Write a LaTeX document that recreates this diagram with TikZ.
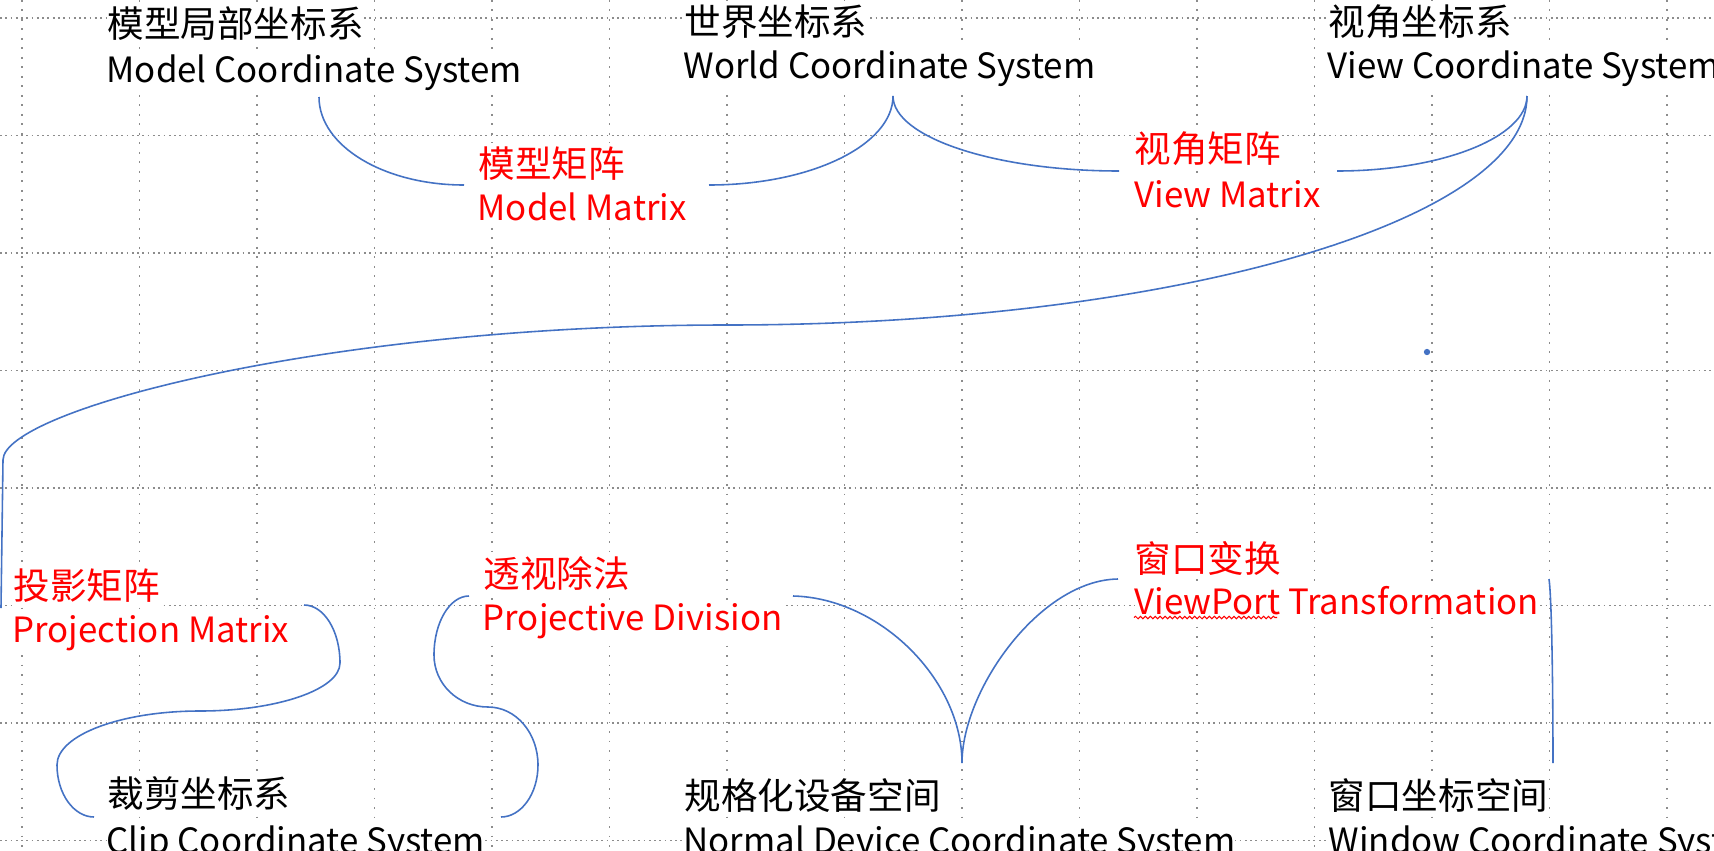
\documentclass[tikz,border=0pt]{standalone}
\usepackage{fontspec}
\setmainfont{Noto Sans CJK SC}
\usetikzlibrary{decorations.pathmorphing}
\definecolor{shapeblue}{RGB}{68,114,196}
\definecolor{markred}{RGB}{255,0,0}
\definecolor{gridgray}{RGB}{140,140,140}
\tikzset{
    raw label/.style={anchor=base west, inner xsep=0pt, inner ysep=1pt, fill=white},
    sys name/.style={raw label, text=black, font=\fontsize{10.4}{12}\selectfont},
    sys name en/.style={raw label, text=black, font=\fontsize{9.9}{12}\selectfont},
    map name/.style={sys name, text=markred},
    map name en/.style={sys name en, text=markred},
    brace line/.style={shapeblue, line width=0.45pt},
    grid h/.style={gridgray, line width=0.5pt, dash pattern=on 0.5pt off 1pt},
    grid v/.style={gridgray, line width=0.5pt, dash pattern=on 0.5pt off 2.2pt},
    spell mark/.style={markred, line width=0.3pt, decorate, decoration={snake, amplitude=0.35pt, segment length=1.4pt}}
}
\begin{document}
\begin{tikzpicture}[x=0.01cm, y=-0.01cm]
	\path[use as bounding box, fill=white] (0,0) rectangle (1714,851);
	\foreach \gy in {0,...,7}
		\draw[grid h] (0,{18+117.5*\gy}) -- (1714,{18+117.5*\gy});
	\foreach \gx in {0,...,14}
		\draw[grid v] ({22+117.5*\gx},0) -- ({22+117.5*\gx},851);

	\node[sys name] (model) at (107,37.5) {模型局部坐标系};
	\node[sys name en] (model en) at (106,82) {Model Coordinate System};
	\node[sys name] (world) at (684,35) {世界坐标系};
	\node[sys name en] (world en) at (683,78) {World Coordinate System};
	\node[sys name] (view) at (1328,35.5) {视角坐标系};
	\node[sys name en] (view en) at (1327,78) {View Coordinate System};
	\node[map name] (model mat) at (478,177.5) {模型矩阵};
	\node[map name en] (model mat en) at (477,220) {Model Matrix};
	\node[map name] (view mat) at (1134,162.5) {视角矩阵};
	\node[map name en] (view mat en) at (1134,207) {View Matrix};
	\node[map name] (proj mat) at (13,599.5) {投影矩阵};
	\node[map name en] (proj mat en) at (12,642) {Projection Matrix};
	\node[map name] (proj div) at (483,587.5) {透视除法};
	\node[map name en] (proj div en) at (482,630) {Projective Division};
	\node[map name] (port) at (1134,572.5) {窗口变换};
	\node[map name en] (port en) at (1134,614) {ViewPort Transformation};
	\node[sys name] (clip) at (107,807.5) {裁剪坐标系};
	\node[sys name en] (clip en) at (106,853) {Clip Coordinate System};
	\node[sys name] (ndc) at (684,809) {规格化设备空间};
	\node[sys name en] (ndc en) at (683,853) {Normal Device Coordinate System};
	\node[sys name] (window) at (1328,809) {窗口坐标空间};
	\node[sys name en] (window en) at (1328,853) {Window Coordinate System};

	\coordinate (model tail) at (319,97);
	\coordinate (mm left) at (464,185);
	\coordinate (mm right) at (709,185);
	\coordinate (world tip) at (893,96);
	\coordinate (vm left) at (1119,171);
	\coordinate (vm right) at (1337,171);
	\coordinate (view tip) at (1527,96);
	\coordinate (pm top) at (1,608);
	\coordinate (pm tail) at (304,605);
	\coordinate (clip left) at (94,817);
	\coordinate (pd tail) at (469,596);
	\coordinate (clip right) at (501,817);
	\coordinate (ndc left) at (793,596);
	\coordinate (ndc tip) at (962,763);
	\coordinate (port left) at (1118,579);
	\coordinate (window top) at (1549,579);
	\coordinate (window foot) at (1553,763);
	\coordinate (dot) at (1427,352);

	\draw[brace line] (model tail) .. controls +(0,49) and +(-80,0) .. (mm left);
	\draw[brace line] (mm right) .. controls +(102,0) and +(0,49) .. (world tip);
	\draw[brace line] (world tip) .. controls +(0,41) and +(-125,0) .. (vm left);
	\draw[brace line] (vm right) .. controls +(105,0) and +(0,41) .. (view tip);
	\draw[brace line] (view tip) .. controls +(0,126) and +(442,0) .. (727,325)
		.. controls +(-400,0) and +(0,-50) .. (3,460) -- (pm top);
	\draw[brace line] (pm tail) .. controls +(20,0) and +(0,-32) .. (340,663)
		.. controls +(0,26.5) and +(77,0) .. (200,711)
		.. controls +(-79,0) and +(0,-30) .. (57,765)
		.. controls +(0,29) and +(-20,0) .. (clip left);
	\draw[brace line] (pd tail) .. controls +(-19,0) and +(0,-33) .. (434,655)
		.. controls +(0,29) and +(-30,0) .. (488,707)
		.. controls +(28,0) and +(0,-32) .. (538,765)
		.. controls +(0,29) and +(20,0) .. (clip right);
	\draw[brace line] (ndc left) .. controls +(87,2) and +(0,-83) .. (ndc tip)
		.. controls +(0,-73) and +(-78,1) .. (port left);
	\draw[brace line] (window top) .. controls +(3,21) and +(0,-63) .. (window foot);
	\fill[shapeblue] (dot) circle (0.9pt);
	\draw[spell mark] ([yshift=-1pt]port en.base west) -- ++(143,0);
\end{tikzpicture}
\end{document}
